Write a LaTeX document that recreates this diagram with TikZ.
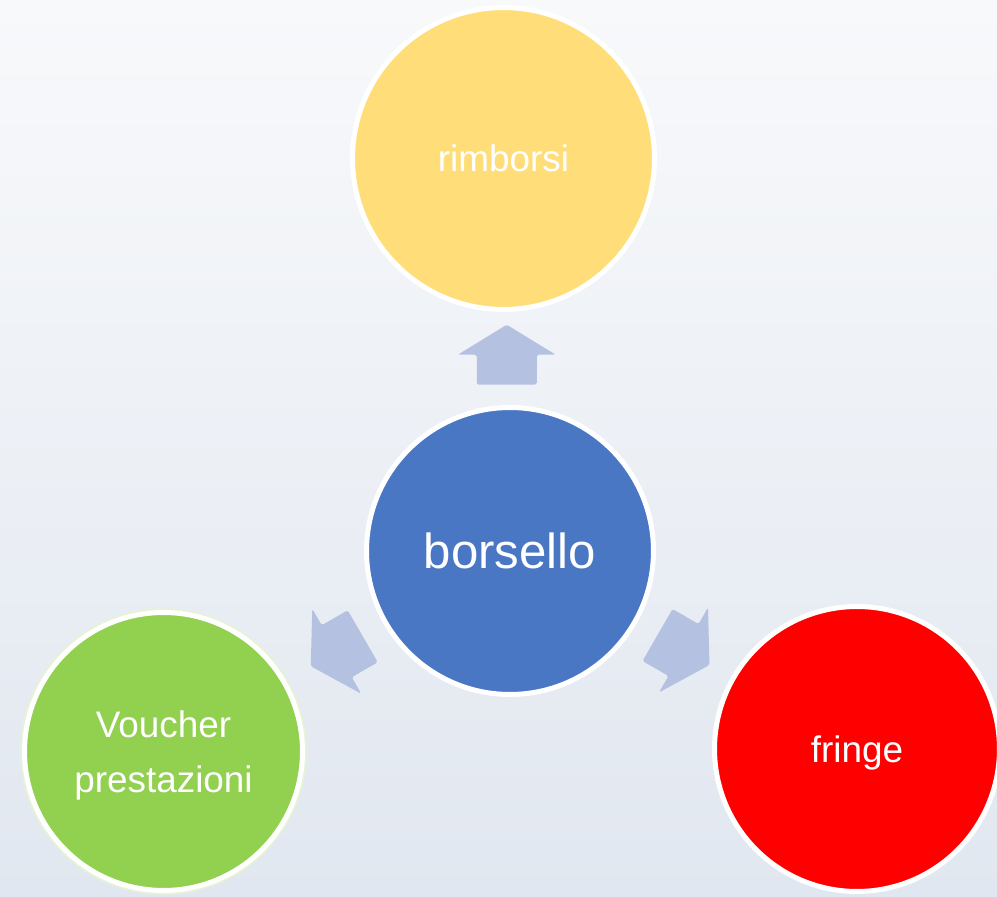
\documentclass[tikz,border=0pt]{standalone}
\usepackage{fontspec}
\setmainfont{Liberation Sans}
\usetikzlibrary{calc}
\definecolor{giallo}{HTML}{FFDE7A}
\definecolor{blu}{HTML}{4A77C4}
\definecolor{verde}{HTML}{92D050}
\definecolor{verdechiaro}{HTML}{E6F4D4}
\definecolor{rosso}{HTML}{FF0000}
\definecolor{frecciablu}{HTML}{B4C1E0}
\definecolor{sfondoalto}{HTML}{F8F9FB}
\definecolor{sfondobasso}{HTML}{E1E7F0}

\begin{document}
\begin{tikzpicture}[x=0.02cm,y=0.02cm,
    bolla/.style={circle,draw=white,line width=0.1cm,text=white,align=center,inner sep=0pt,text depth=0pt,font=\fontsize{21}{31}\selectfont},
    freccia/.style={fill=frecciablu,rounded corners=1pt}]
  \useasboundingbox (0,0) rectangle (997,896);
  \shade[top color=sfondoalto,bottom color=sfondobasso] (0,0) rectangle (997,896);
  \node[bolla,fill=giallo,minimum size=6.04cm] (rimborsi) at (503.5,737.5) {rimborsi};
  \node[bolla,fill=blu,minimum size=5.74cm,font=\fontsize{28}{34}\selectfont] (borsello) at (510,345) {borsello};
  \draw[verdechiaro,line width=0.05cm] (163.5,144.5) circle (2.84cm);
  \node[bolla,fill=verde,minimum size=5.56cm] (voucher) at (163.5,144.5) {Voucher\\prestazioni};
  \node[bolla,fill=rosso,minimum size=5.7cm] (fringe) at (857,147) {fringe};
  \foreach \dest/\ang in {rimborsi/90,voucher/210,fringe/-30} {
    \fill[freccia,shift={($(borsello)!0.5!(\dest)$)},rotate=\ang] (-30,-30) -- (0,-30) -- (0,-49) -- (30,0) -- (0,49) -- (0,30) -- (-30,30) -- cycle;
  }
\end{tikzpicture}
\end{document}
